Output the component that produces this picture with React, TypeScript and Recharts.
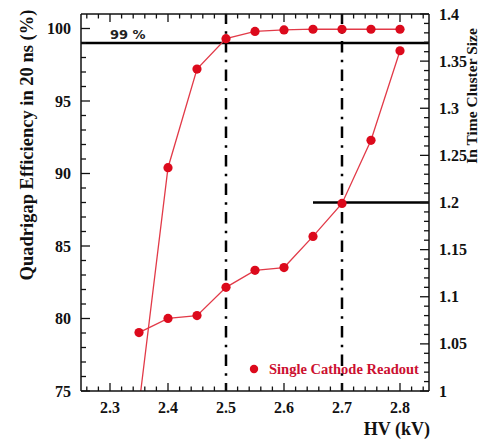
import React from 'react';
import { LineChart, Line, XAxis, YAxis, ReferenceLine, Label, Legend } from 'recharts';

const hv = [2.35, 2.4, 2.45, 2.5, 2.55, 2.6, 2.65, 2.7, 2.75, 2.8];
const efficiency = [74, 90.4, 97.2, 99.3, 99.8, 99.9, 99.95, 99.95, 99.95, 99.95];
const clusterSize = [1.062, 1.077, 1.08, 1.11, 1.128, 1.131, 1.164, 1.199, 1.266, 1.361];

const xMajorTicks = [2.3, 2.4, 2.5, 2.6, 2.7, 2.8];
const leftMajorTicks = [75, 80, 85, 90, 95, 100];
const rightMajorTicks = [1, 1.05, 1.1, 1.15, 1.2, 1.25, 1.3, 1.35, 1.4];

const xTicks: number[] = [];
for (let i = 113; i <= 142; i++) xTicks.push(Math.round(i * 2) / 100);
const leftTicks: number[] = [];
for (let v = 75; v <= 100; v++) leftTicks.push(v);
const rightTicks: number[] = [];
for (let i = 100; i <= 140; i++) rightTicks.push(i / 100);

const data = hv.map((h, i) => ({ hv: h, eff: efficiency[i], cs: clusterSize[i] }));

const near = (arr: number[], v: number) => arr.some((a) => Math.abs(a - v) < 1e-6);

const SERIF = '"Liberation Serif", "Times New Roman", serif';
const AX = '#111';
const RED_DOT = '#dc0a1c';
const RED_LINE = '#e23a48';

const BottomTick = (p: any) => {
  const { x, y, payload } = p;
  const major = near(xMajorTicks, payload.value);
  return (
    <g>
      <line x1={x} x2={x} y1={y} y2={y - (major ? 8 : 4.5)} stroke={AX} strokeWidth={1.3} />
      {major && (
        <text x={x} y={y + 21.5} textAnchor="middle" fontFamily={SERIF} fontWeight="bold" fontSize={16} fill="#111">
          {payload.value.toFixed(1)}
        </text>
      )}
    </g>
  );
};

const TopTick = (p: any) => {
  const { x, y, payload } = p;
  const major = near(xMajorTicks, payload.value);
  return <line x1={x} x2={x} y1={y} y2={y + (major ? 8 : 4.5)} stroke={AX} strokeWidth={1.3} />;
};

const LeftTick = (p: any) => {
  const { x, y, payload } = p;
  const major = near(leftMajorTicks, payload.value);
  return (
    <g>
      <line x1={x} x2={x + (major ? 9 : 5)} y1={y} y2={y} stroke={AX} strokeWidth={1.3} />
      {major && (
        <text x={x - 10} y={y + 5.5} textAnchor="end" fontFamily={SERIF} fontWeight="bold" fontSize={16} fill="#111">
          {payload.value}
        </text>
      )}
    </g>
  );
};

const RightTick = (p: any) => {
  const { x, y, payload } = p;
  const major = near(rightMajorTicks, payload.value);
  return (
    <g>
      <line x1={x} x2={x - (major ? 9 : 5)} y1={y} y2={y} stroke={AX} strokeWidth={1.3} />
      {major && (
        <text x={x + 10} y={y + 5.5} textAnchor="start" fontFamily={SERIF} fontWeight="bold" fontSize={16} fill="#111">
          {String(Math.round(payload.value * 100) / 100)}
        </text>
      )}
    </g>
  );
};

const LegendContent = () => (
  <svg width={190} height={22}>
    <circle cx={14} cy={11} r={4.2} fill={RED_DOT} />
    <text x={29} y={16} fontFamily={SERIF} fontWeight="bold" fontSize={14.5} fill="#cc1030">
      Single Cathode Readout
    </text>
  </svg>
);

export default function App() {
  return (
    <div style={{ position: 'absolute', left: 0, top: 0, width: 481, height: 444, background: '#fff' }}>
      <LineChart width={481} height={444} data={data} margin={{ top: 4, right: 2, bottom: 23, left: 21 }}>
        <XAxis
          dataKey="hv"
          type="number"
          domain={[2.25, 2.85]}
          ticks={xTicks}
          interval={0}
          allowDataOverflow
          tickSize={0}
          tickMargin={0}
          tickLine={false}
          tick={<BottomTick />}
          height={30}
          axisLine={{ stroke: AX, strokeWidth: 1.5 }}
        >
          <Label
            content={(props: any) => {
              const vb = props.viewBox;
              return (
                <text x={vb.x + vb.width + 1} y={vb.y + 44} textAnchor="end" fontFamily={SERIF} fontWeight="bold" fontSize={18} fill="#111">
                  HV (kV)
                </text>
              );
            }}
          />
        </XAxis>
        <XAxis
          xAxisId="top"
          dataKey="hv"
          orientation="top"
          type="number"
          domain={[2.25, 2.85]}
          allowDataOverflow
          ticks={xTicks}
          interval={0}
          tickSize={0}
          tickMargin={0}
          tickLine={false}
          tick={<TopTick />}
          height={10}
          axisLine={{ stroke: AX, strokeWidth: 1.5 }}
        />
        <YAxis
          yAxisId="left"
          type="number"
          domain={[75, 101]}
          ticks={leftTicks}
          interval={0}
          allowDataOverflow
          tickSize={0}
          tickMargin={0}
          tickLine={false}
          tick={<LeftTick />}
          width={60}
          axisLine={{ stroke: AX, strokeWidth: 1.5 }}
        >
          <Label
            content={(props: any) => {
              const vb = props.viewBox;
              const cx = vb.x + 12;
              const cy = vb.y + 131;
              return (
                <text transform={`translate(${cx},${cy}) rotate(-90)`} textAnchor="middle" fontFamily={SERIF} fontWeight="bold" fontSize={18.5} fill="#111">
                  Quadrigap Efficiency in 20 ns (%)
                </text>
              );
            }}
          />
        </YAxis>
        <YAxis
          yAxisId="right"
          orientation="right"
          type="number"
          domain={[1, 1.4]}
          ticks={rightTicks}
          interval={0}
          allowDataOverflow
          tickSize={0}
          tickMargin={0}
          tickLine={false}
          tick={<RightTick />}
          width={50}
          axisLine={{ stroke: AX, strokeWidth: 1.5 }}
        >
          <Label
            content={(props: any) => {
              const vb = props.viewBox;
              const cx = vb.x + 48;
              const cy = vb.y + 82;
              return (
                <text transform={`translate(${cx},${cy}) rotate(-90)`} textAnchor="middle" fontFamily={SERIF} fontWeight="bold" fontSize={15.5} fill="#111">
                  In Time Cluster Size
                </text>
              );
            }}
          />
        </YAxis>

        <ReferenceLine
          yAxisId="left"
          y={99}
          stroke="#000"
          strokeWidth={2.5}
          label={(props: any) => {
            const vb = props.viewBox;
            return (
              <text x={vb.x + 29} y={vb.y - 4} fontFamily='"DejaVu Sans", sans-serif' fontWeight="bold" fontSize={13} fill="#222">
                99 %
              </text>
            );
          }}
        />
        <ReferenceLine yAxisId="left" x={2.5} stroke="#000" strokeWidth={2.5} strokeDasharray="11.5 7.25 2.5 7.25" strokeDashoffset={3.5} />
        <ReferenceLine yAxisId="left" x={2.7} stroke="#000" strokeWidth={2.5} strokeDasharray="11.5 7.25 2.5 7.25" strokeDashoffset={3.5} />
        <ReferenceLine
          yAxisId="right"
          segment={[
            { x: 2.65, y: 1.2 },
            { x: 2.85, y: 1.2 },
          ]}
          stroke="#000"
          strokeWidth={2.5}
        />

        <Line
          yAxisId="left"
          dataKey="eff"
          stroke={RED_LINE}
          strokeWidth={1.3}
          dot={{ r: 4.6, fill: RED_DOT, stroke: 'none' }}
          isAnimationActive={false}
        />
        <Line
          yAxisId="right"
          dataKey="cs"
          stroke={RED_LINE}
          strokeWidth={1.3}
          dot={{ r: 4.6, fill: RED_DOT, stroke: 'none' }}
          isAnimationActive={false}
        />
        <Legend
          layout="horizontal"
          verticalAlign="middle"
          align="center"
          content={<LegendContent />}
          wrapperStyle={{ left: 240, top: 358, width: 190, height: 22 }}
        />
      </LineChart>
    </div>
  );
}
